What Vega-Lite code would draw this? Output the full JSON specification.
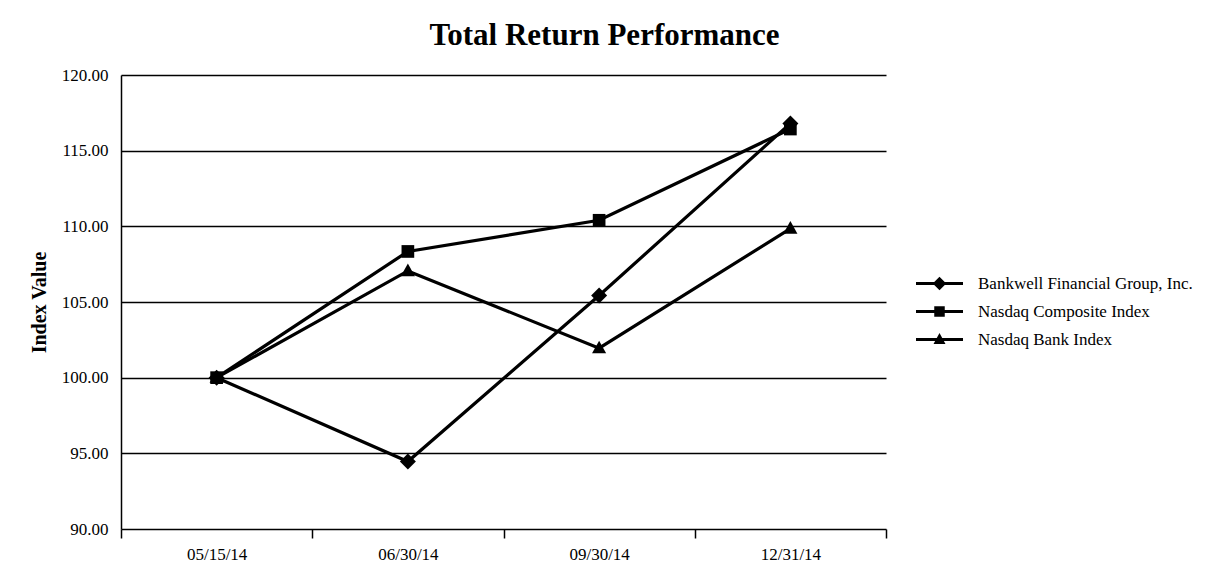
{
  "$schema": "https://vega.github.io/schema/vega-lite/v6.json",
  "autosize": "none",
  "width": 765,
  "height": 454,
  "padding": {"left": 121, "top": 75, "right": 321, "bottom": 38},
  "background": "white",
  "title": {
    "text": "Total Return Performance",
    "font": "Liberation Serif",
    "fontSize": 31,
    "fontWeight": "bold",
    "color": "black",
    "anchor": "middle",
    "dx": 101,
    "offset": 14
  },
  "data": {
    "values": [
      {"date": "05/15/14", "series": "Bankwell Financial Group, Inc.", "value": 100.0},
      {"date": "06/30/14", "series": "Bankwell Financial Group, Inc.", "value": 94.46},
      {"date": "09/30/14", "series": "Bankwell Financial Group, Inc.", "value": 105.43},
      {"date": "12/31/14", "series": "Bankwell Financial Group, Inc.", "value": 116.8},
      {"date": "05/15/14", "series": "Nasdaq Composite Index", "value": 100.0},
      {"date": "06/30/14", "series": "Nasdaq Composite Index", "value": 108.34},
      {"date": "09/30/14", "series": "Nasdaq Composite Index", "value": 110.4},
      {"date": "12/31/14", "series": "Nasdaq Composite Index", "value": 116.43},
      {"date": "05/15/14", "series": "Nasdaq Bank Index", "value": 100.0},
      {"date": "06/30/14", "series": "Nasdaq Bank Index", "value": 107.05},
      {"date": "09/30/14", "series": "Nasdaq Bank Index", "value": 101.95},
      {"date": "12/31/14", "series": "Nasdaq Bank Index", "value": 109.85}
    ]
  },
  "encoding": {
    "x": {
      "field": "date",
      "type": "ordinal",
      "sort": null,
      "scale": {"type": "band", "paddingInner": 0, "paddingOuter": 0},
      "axis": {
        "title": null,
        "labelAngle": 0,
        "labelFont": "Liberation Serif",
        "labelFontSize": 17,
        "labelColor": "black",
        "labelPadding": 8,
        "tickBand": "extent",
        "tickSize": 9,
        "tickColor": "black",
        "tickWidth": 1.5,
        "domain": false,
        "grid": false
      }
    },
    "y": {
      "field": "value",
      "type": "quantitative",
      "scale": {"domain": [90, 120], "nice": false, "zero": false},
      "axis": {
        "title": "Index Value",
        "titleFont": "Liberation Serif",
        "titleFontSize": 20,
        "titleFontWeight": "bold",
        "titleColor": "black",
        "titlePadding": 12,
        "values": [90, 95, 100, 105, 110, 115, 120],
        "format": ".2f",
        "labelFont": "Liberation Serif",
        "labelFontSize": 17,
        "labelColor": "black",
        "labelPadding": 13,
        "ticks": false,
        "domain": true,
        "domainColor": "black",
        "domainWidth": 1.5,
        "grid": true,
        "gridColor": "black",
        "gridWidth": 1.5,
        "gridOpacity": 1
      }
    }
  },
  "layer": [
    {
      "mark": {"type": "line", "color": "black", "strokeWidth": 3.2},
      "encoding": {
        "detail": {"field": "series"}
      }
    },
    {
      "mark": {"type": "point", "filled": true, "color": "black", "opacity": 1, "size": 2209},
      "encoding": {
        "shape": {
          "field": "series",
          "type": "nominal",
          "scale": {
            "domain": ["Bankwell Financial Group, Inc.", "Nasdaq Composite Index", "Nasdaq Bank Index"],
            "range": [
              "M0,-0.34L0.34,0L0,0.34L-0.34,0Z",
              "M-0.27,-0.27L0.27,-0.27L0.27,0.27L-0.27,0.27Z",
              "M0,-0.32L0.3,0.22L-0.3,0.22Z"
            ]
          },
          "legend": null
        }
      }
    },
    {
      "mark": {"type": "point", "filled": true, "color": "black", "opacity": 1, "size": 0},
      "encoding": {
        "shape": {
          "field": "series",
          "type": "nominal",
          "scale": {
            "domain": ["Bankwell Financial Group, Inc.", "Nasdaq Composite Index", "Nasdaq Bank Index"],
            "range": [
              "M-4.7,-0.3L4.7,-0.3L4.7,0.3L-4.7,0.3ZM0,-1.35L1.35,0L0,1.35L-1.35,0Z",
              "M-4.7,-0.3L4.7,-0.3L4.7,0.3L-4.7,0.3ZM-1.05,-1.05L1.05,-1.05L1.05,1.05L-1.05,1.05Z",
              "M-4.7,-0.3L4.7,-0.3L4.7,0.3L-4.7,0.3ZM0,-1.3L1.2,0.9L-1.2,0.9Z"
            ]
          },
          "legend": {
            "title": null,
            "orient": "none",
            "legendX": 810,
            "legendY": 200,
            "symbolSize": 100,
            "symbolFillColor": "black",
            "symbolStrokeWidth": 0,
            "symbolOpacity": 1,
            "labelFont": "Liberation Serif",
            "labelFontSize": 17,
            "labelColor": "black",
            "labelLimit": 400,
            "labelOffset": 30,
            "rowPadding": 10
          }
        }
      }
    }
  ],
  "resolve": {"scale": {"shape": "independent"}, "legend": {"shape": "independent"}},
  "config": {
    "view": {"stroke": null},
    "font": "Liberation Serif"
  }
}
